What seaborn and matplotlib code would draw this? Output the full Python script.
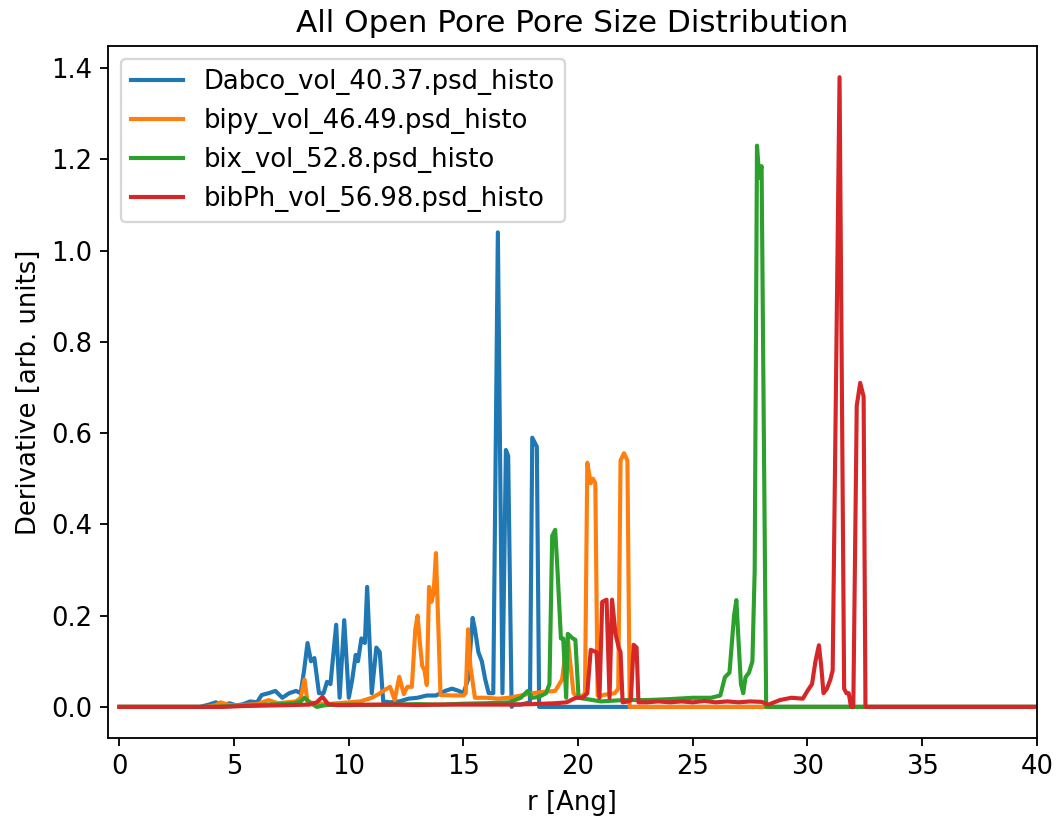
import numpy as np
import pandas as pd
import matplotlib
matplotlib.use("Agg")
import matplotlib.pyplot as plt
import seaborn as sns

# ---------------- data ----------------
labels = ["Dabco_vol_40.37.psd_histo", "bipy_vol_46.49.psd_histo",
          "bix_vol_52.8.psd_histo", "bibPh_vol_56.98.psd_histo"]

dabco_r = [0, 3.5, 3.9, 4.2, 4.5, 4.8, 5.1, 5.4, 5.7, 6.0, 6.2, 6.5, 6.8, 7.1, 7.4, 7.7, 7.9,
           8.05, 8.2, 8.35, 8.5, 8.7, 8.9, 9.05, 9.2, 9.45, 9.6, 9.8, 10.0, 10.15, 10.3, 10.4,
           10.55, 10.7, 10.8, 11.0, 11.2, 11.35, 11.5, 11.8, 12.2, 12.6, 13.0, 13.4, 13.8, 14.2,
           14.5, 14.8, 15.0, 15.2, 15.4, 15.5, 15.65, 15.8, 15.95, 16.1, 16.3, 16.5, 16.7, 16.85,
           16.95, 17.1, 17.2, 17.5, 17.9, 18.0, 18.2, 18.3, 40]
dabco_d = [0, 0, 0.005, 0.01, 0.004, 0.008, 0.003, 0.006, 0.012, 0.01, 0.026, 0.03, 0.035, 0.02,
           0.03, 0.035, 0.03, 0.08, 0.14, 0.1, 0.107, 0.03, 0.03, 0.055, 0.05, 0.18, 0.02, 0.19,
           0.02, 0.06, 0.114, 0.1, 0.15, 0.14, 0.263, 0.03, 0.13, 0.12, 0.012, 0.01, 0.012, 0.018,
           0.02, 0.025, 0.025, 0.035, 0.04, 0.035, 0.03, 0.06, 0.195, 0.17, 0.12, 0.1, 0.06, 0.03,
           0.03, 1.04, 0.03, 0.563, 0.55, 0.0, 0.005, 0.005, 0.01, 0.59, 0.57, 0.0, 0]

bipy_r = [0, 3.8, 4.2, 4.4, 4.8, 5.2, 5.6, 6.0, 6.5, 6.9, 7.3, 7.7, 7.9, 8.07, 8.2, 8.6, 9.0,
          9.5, 10.0, 10.5, 11.0, 11.3, 11.5, 11.8, 12.0, 12.2, 12.4, 12.55, 12.75, 12.9, 13.0,
          13.1, 13.2, 13.3, 13.4, 13.5, 13.6, 13.7, 13.8, 14.0, 14.5, 15.0, 15.1, 15.2, 15.3,
          15.5, 16.0, 16.5, 17.0, 17.5, 18.0, 18.5, 19.0, 19.3, 19.45, 19.55, 19.65, 19.8, 20.0,
          20.2, 20.3, 20.4, 20.55, 20.65, 20.75, 20.85, 21.0, 21.3, 21.6, 21.75, 21.85, 22.0,
          22.15, 22.25, 40]
bipy_d = [0, 0, 0.004, 0.01, 0.004, 0.003, 0.005, 0.006, 0.015, 0.008, 0.01, 0.012, 0.02, 0.06,
          0.01, 0.008, 0.006, 0.008, 0.01, 0.012, 0.02, 0.028, 0.035, 0.044, 0.015, 0.066, 0.028,
          0.044, 0.044, 0.17, 0.2, 0.14, 0.09, 0.08, 0.048, 0.263, 0.23, 0.25, 0.337, 0.026,
          0.025, 0.025, 0.03, 0.17, 0.09, 0.02, 0.02, 0.018, 0.02, 0.025, 0.03, 0.033, 0.035,
          0.06, 0.12, 0.15, 0.1, 0.03, 0.02, 0.025, 0.03, 0.535, 0.49, 0.5, 0.49, 0.025, 0.025,
          0.028, 0.03, 0.04, 0.54, 0.556, 0.54, 0.0, 0]

bix_r = [0, 4.0, 5.0, 6.0, 7.0, 7.6, 7.9, 8.07, 8.3, 8.6, 9.0, 10, 11, 12, 13, 14, 15, 16, 17,
         17.5, 17.8, 18.0, 18.3, 18.6, 18.75, 18.87, 19.0, 19.1, 19.25, 19.35, 19.48, 19.55,
         19.77, 19.88, 20.02, 21, 22, 23, 24, 25, 25.8, 26.2, 26.4, 26.6, 26.8, 26.9, 27.0,
         27.1, 27.2, 27.3, 27.45, 27.6, 27.7, 27.8, 27.9, 28.0, 28.2, 40]
bix_d = [0, 0, 0.002, 0.004, 0.006, 0.008, 0.012, 0.02, 0.01, 0.0, 0.004, 0.005, 0.004, 0.005,
         0.006, 0.005, 0.007, 0.008, 0.01, 0.02, 0.035, 0.02, 0.022, 0.03, 0.05, 0.375, 0.388,
         0.3, 0.15, 0.15, 0.02, 0.16, 0.15, 0.147, 0.02, 0.012, 0.015, 0.015, 0.017, 0.02, 0.02,
         0.025, 0.065, 0.075, 0.2, 0.234, 0.14, 0.05, 0.03, 0.065, 0.075, 0.1, 0.3, 1.23, 1.16,
         1.185, 0.0, 0]

bibph_r = [0, 4.5, 5.5, 6.5, 7.5, 8.3, 8.6, 8.85, 9.1, 9.5, 10, 11, 12, 13, 14, 15, 16, 17, 18,
           19, 19.5, 19.9, 20.2, 20.4, 20.55, 20.8, 20.93, 21.05, 21.24, 21.37, 21.48, 21.63,
           21.77, 21.85, 21.94, 22.2, 22.3, 22.42, 22.55, 22.63, 23, 23.5, 24, 24.5, 25, 25.5,
           26, 26.5, 27, 27.5, 28, 28.3, 28.8, 29.3, 29.8, 30.0, 30.2, 30.35, 30.5, 30.6, 30.7,
           30.85, 31.0, 31.1, 31.4, 31.6, 31.7, 31.8, 31.9, 32.0, 32.15, 32.3, 32.45, 32.53, 40]
bibph_d = [0, 0, 0.002, 0.003, 0.004, 0.005, 0.01, 0.022, 0.006, 0.004, 0.004, 0.005, 0.005,
           0.004, 0.005, 0.005, 0.005, 0.005, 0.006, 0.008, 0.01, 0.02, 0.02, 0.03, 0.125, 0.12,
           0.02, 0.23, 0.235, 0.02, 0.235, 0.16, 0.13, 0.12, 0.01, 0.012, 0.015, 0.136, 0.13,
           0.01, 0.01, 0.012, 0.01, 0.012, 0.01, 0.013, 0.01, 0.012, 0.01, 0.012, 0.011, 0.005,
           0.015, 0.02, 0.018, 0.035, 0.05, 0.1, 0.135, 0.09, 0.03, 0.04, 0.06, 0.08, 1.38, 0.04,
           0.03, 0.03, 0.0, 0.0, 0.66, 0.71, 0.68, 0.0, 0]

colors = ["#1f77b4", "#ff7f0e", "#2ca02c", "#d62728"]

# ---------------- build long table ----------------
frames = []
for lab, rr, dd in zip(labels, [dabco_r, bipy_r, bix_r, bibph_r],
                       [dabco_d, bipy_d, bix_d, bibph_d]):
    frames.append(pd.DataFrame({"r": rr, "d": dd, "series": lab}))
df = pd.concat(frames, ignore_index=True)

# ---------------- plot ----------------
dpi = 165
fig = plt.figure(figsize=(1059 / dpi, 825 / dpi), dpi=dpi)
ax = fig.add_axes([0.102, 0.105, 0.877, 0.8396])

sns.lineplot(data=df, x="r", y="d", hue="series", hue_order=labels,
             palette=colors, estimator=None, sort=False, linewidth=1.8, ax=ax)

fs = 11.3
ax.set_xlim(-0.5, 40)
ax.set_xticks(np.arange(0, 41, 5))
ax.set_title("All Open Pore Pore Size Distribution", fontsize=13.6)
ax.set_xlabel("r [Ang]", fontsize=fs)
ax.set_ylabel("Derivative [arb. units]", fontsize=fs)
ax.tick_params(labelsize=fs)
ax.legend(loc="upper left", fontsize=fs)

fig.savefig("out.png", dpi=dpi)
